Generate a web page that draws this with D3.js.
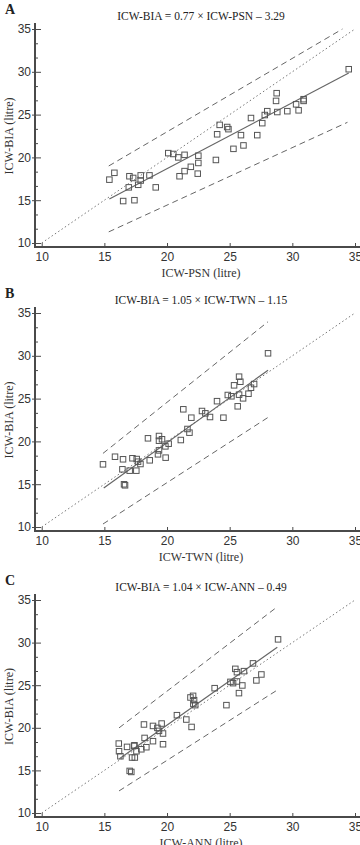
<!DOCTYPE html>
<html>
<head>
<meta charset="utf-8">
<title>ICW-BIA vs reference ICW</title>
<style>
  body { margin: 0; background: #fff; }
  svg { display: block; font-family: "Liberation Serif", "Times New Roman", serif; }
  .tick text { font-size: 12px; fill: #333; }
</style>
</head>
<body>
<svg id="chart"></svg>
<script src="https://d3js.org/d3.v7.min.js"></script>
<script>
// panel A: ICW-PSN vs ICW-BIA (litre)
const psnX = [34.5, 28.75, 30.9, 30.9, 30.3, 30.5, 29.6, 28.8, 28.7, 28.0, 27.8, 27.6, 26.7, 27.2, 25.9,
  24.2, 24.8, 24.9, 24.0, 25.3, 26.1, 23.9, 22.5, 22.5, 22.45, 21.9, 21.4, 21.0, 21.4, 20.9, 20.5, 20.1,
  19.1, 18.6, 17.9, 17.9, 17.7, 17.0, 17.3, 16.95, 15.8, 15.4, 16.5, 17.4];
const psnY = [30.3, 27.5, 26.8, 26.6, 26.2, 25.5, 25.4, 25.3, 26.6, 25.4, 24.95, 24.0, 24.6, 22.6, 22.6,
  23.8, 23.55, 23.3, 22.7, 21.0, 21.4, 19.7, 20.2, 19.35, 18.1, 18.9, 18.4, 17.8, 20.3, 20.0, 20.4, 20.5,
  16.5, 17.9, 17.9, 17.3, 16.8, 17.8, 17.6, 16.5, 18.2, 17.4, 14.9, 15.0];

// panel B: ICW-TWN vs ICW-BIA
const twnX = [28.06, 25.75, 25.85, 25.35, 26.95, 26.7, 26.5, 26.07, 25.75, 24.85, 25.14, 25.64, 23.99,
  21.3, 22.79, 23.06, 21.94, 23.43, 24.5, 21.63, 21.79, 21.1, 18.48, 19.36, 19.36, 19.6, 20.13, 19.87,
  19.36, 19.28, 19.89, 18.62, 17.24, 17.58, 17.69, 17.88, 16.49, 15.85, 14.89, 16.44, 17.02, 17.55,
  16.57, 16.65];
const twnY = [30.29, 27.56, 26.97, 26.55, 26.7, 26.27, 25.57, 25.03, 25.46, 25.42, 25.27, 24.1, 24.7,
  23.75, 23.55, 23.28, 22.77, 22.85, 22.77, 21.45, 21.02, 20.16, 20.36, 20.63, 20.08, 20.25, 19.73, 19.42,
  18.95, 18.49, 18.1, 17.79, 18.03, 17.94, 17.63, 17.36, 17.91, 18.21, 17.32, 16.74, 16.58, 16.58,
  14.99, 14.87];

// panel C: ICW-ANN vs ICW-BIA
const annX = [28.86, 26.86, 25.45, 26.14, 25.58, 27.53, 27.13, 25.06, 25.27, 25.58, 26.01, 25.74, 23.8,
  21.87, 22.08, 22.16, 22.1, 22.25, 24.74, 20.79, 21.54, 21.96, 19.57, 18.88, 18.16, 19.23, 19.36, 19.68,
  18.21, 18.88, 19.68, 18.35, 17.95, 17.56, 17.37, 16.81, 16.15, 16.17, 16.28, 17.21, 17.43, 17.02,
  17.15, 17.4];
const annY = [30.38, 27.56, 26.92, 26.65, 26.53, 26.26, 25.56, 25.39, 25.24, 25.44, 24.97, 24.07, 24.65,
  23.56, 23.75, 23.24, 22.8, 22.66, 22.66, 21.48, 20.97, 20.1, 20.5, 20.22, 20.39, 19.99, 19.64, 19.33,
  18.81, 18.43, 18.07, 17.72, 17.48, 17.25, 17.87, 17.76, 18.15, 17.25, 16.66, 16.51, 16.51, 14.94,
  14.82, 17.95];

// regression line [slope, intercept, xFrom, xTo]
const fitA = [0.77, 3.29, 15.4, 34.5];
const fitB = [1.05, -1.15, 14.95, 28.06];
const fitC = [1.04, -0.49, 16.2, 28.8];

// limit lines [x1, y1, x2, y2]
const upperA = [15.35, 19.0, 34.0, 35.0];
const lowerA = [15.35, 11.3, 34.4, 24.1];
const upperB = [14.89, 18.6, 28.06, 33.98];
const lowerB = [14.89, 10.35, 28.06, 22.8];
const upperC = [16.17, 19.99, 28.7, 34.09];
const lowerC = [16.17, 12.59, 28.7, 24.34];

const letters = ['A', 'B', 'C'];
const titles = ['ICW-BIA = 0.77 × ICW-PSN – 3.29', 'ICW-BIA = 1.05 × ICW-TWN – 1.15', 'ICW-BIA = 1.04 × ICW-ANN – 0.49'];
const xTitles = ['ICW-PSN (litre)', 'ICW-TWN (litre)', 'ICW-ANN (litre)'];
const majorTicks = [10, 15, 20, 25, 30, 35];

const panels = [
  { x: psnX, y: psnY, fit: fitA, up: upperA, lo: lowerA, top: 29, bottom: 243 },
  { x: twnX, y: twnY, fit: fitB, up: upperB, lo: lowerB, top: 313, bottom: 527 },
  { x: annX, y: annY, fit: fitC, up: upperC, lo: lowerC, top: 600, bottom: 813 }
];

const width = 360, height = 845;
const axisX = 35;
const ink = '#4a4a4a';

const svg = d3.select('#chart').attr('width', width).attr('height', height);

const x = d3.scaleLinear().domain([10, 35]).range([41.7, 355]);

// minor ticks: two between each pair of majors
const minorTicks = d3.range(10, 35, 5 / 3).filter(v => Math.abs(v - Math.round(v / 5) * 5) > 0.1);

panels.forEach((p, i) => {
  const y = d3.scaleLinear().domain([10, 35]).range([p.bottom, p.top]);
  const axisY = p.bottom + 4;
  const g = svg.append('g');

  g.append('text')
    .attr('x', 5).attr('y', p.top - 15)
    .attr('font-size', 14).attr('font-weight', 'bold').attr('fill', '#222')
    .text(letters[i]);

  g.append('text')
    .attr('x', 201).attr('y', p.top - 9)
    .attr('text-anchor', 'middle').attr('font-size', 11.5).attr('fill', '#222')
    .text(titles[i]);

  // y axis
  const yAxis = g.append('g').attr('transform', `translate(${axisX},0)`)
    .call(d3.axisLeft(y).tickValues(majorTicks).tickSize(-6).tickPadding(4));
  yAxis.select('.domain').remove();
  yAxis.selectAll('.tick line').attr('x1', -3).attr('stroke', ink);
  g.append('g').attr('transform', `translate(${axisX},0)`)
    .call(d3.axisLeft(y).tickValues(minorTicks).tickSize(-3).tickFormat(''))
    .call(a => a.select('.domain').remove())
    .selectAll('.tick line').attr('stroke', ink);

  // x axis
  const xAxis = g.append('g').attr('transform', `translate(0,${axisY})`)
    .call(d3.axisBottom(x).tickValues(majorTicks).tickSize(-4).tickPadding(5));
  xAxis.select('.domain').remove();
  xAxis.selectAll('.tick line').attr('stroke', ink);

  g.append('line')
    .attr('x1', axisX).attr('x2', axisX).attr('y1', p.top - 6).attr('y2', axisY + 1)
    .attr('stroke', ink).attr('stroke-width', 2);
  g.append('line')
    .attr('x1', axisX - 1).attr('x2', width).attr('y1', axisY).attr('y2', axisY)
    .attr('stroke', ink).attr('stroke-width', 2);

  g.append('text')
    .attr('x', 201).attr('y', axisY + 30)
    .attr('text-anchor', 'middle').attr('font-size', 12).attr('fill', '#333')
    .text(xTitles[i]);

  g.append('text')
    .attr('transform', `translate(13,${(p.top + p.bottom) / 2}) rotate(-90)`)
    .attr('text-anchor', 'middle').attr('font-size', 12).attr('fill', '#333')
    .text('ICW-BIA (litre)');

  // identity line
  g.append('line')
    .attr('x1', x(10)).attr('y1', y(10)).attr('x2', x(35)).attr('y2', y(35))
    .attr('stroke', '#777').attr('stroke-width', 1).attr('stroke-dasharray', '1.5,2.5');

  // limits
  [p.up, p.lo].forEach(l => {
    g.append('line')
      .attr('x1', x(l[0])).attr('y1', y(l[1])).attr('x2', x(l[2])).attr('y2', y(l[3]))
      .attr('stroke', '#666').attr('stroke-width', 1).attr('stroke-dasharray', '6,4');
  });

  // regression
  const [m, c, x0, x1] = p.fit;
  g.append('line')
    .attr('x1', x(x0)).attr('y1', y(m * x0 + c)).attr('x2', x(x1)).attr('y2', y(m * x1 + c))
    .attr('stroke', '#666').attr('stroke-width', 1.2);

  // points
  const s = 5.5;
  g.append('g').selectAll('rect')
    .data(d3.zip(p.x, p.y))
    .join('rect')
    .attr('x', d => x(d[0]) - s / 2)
    .attr('y', d => y(d[1]) - s / 2)
    .attr('width', s).attr('height', s)
    .attr('fill', 'none').attr('stroke', '#555').attr('stroke-width', 1);
});
</script>
</body>
</html>
